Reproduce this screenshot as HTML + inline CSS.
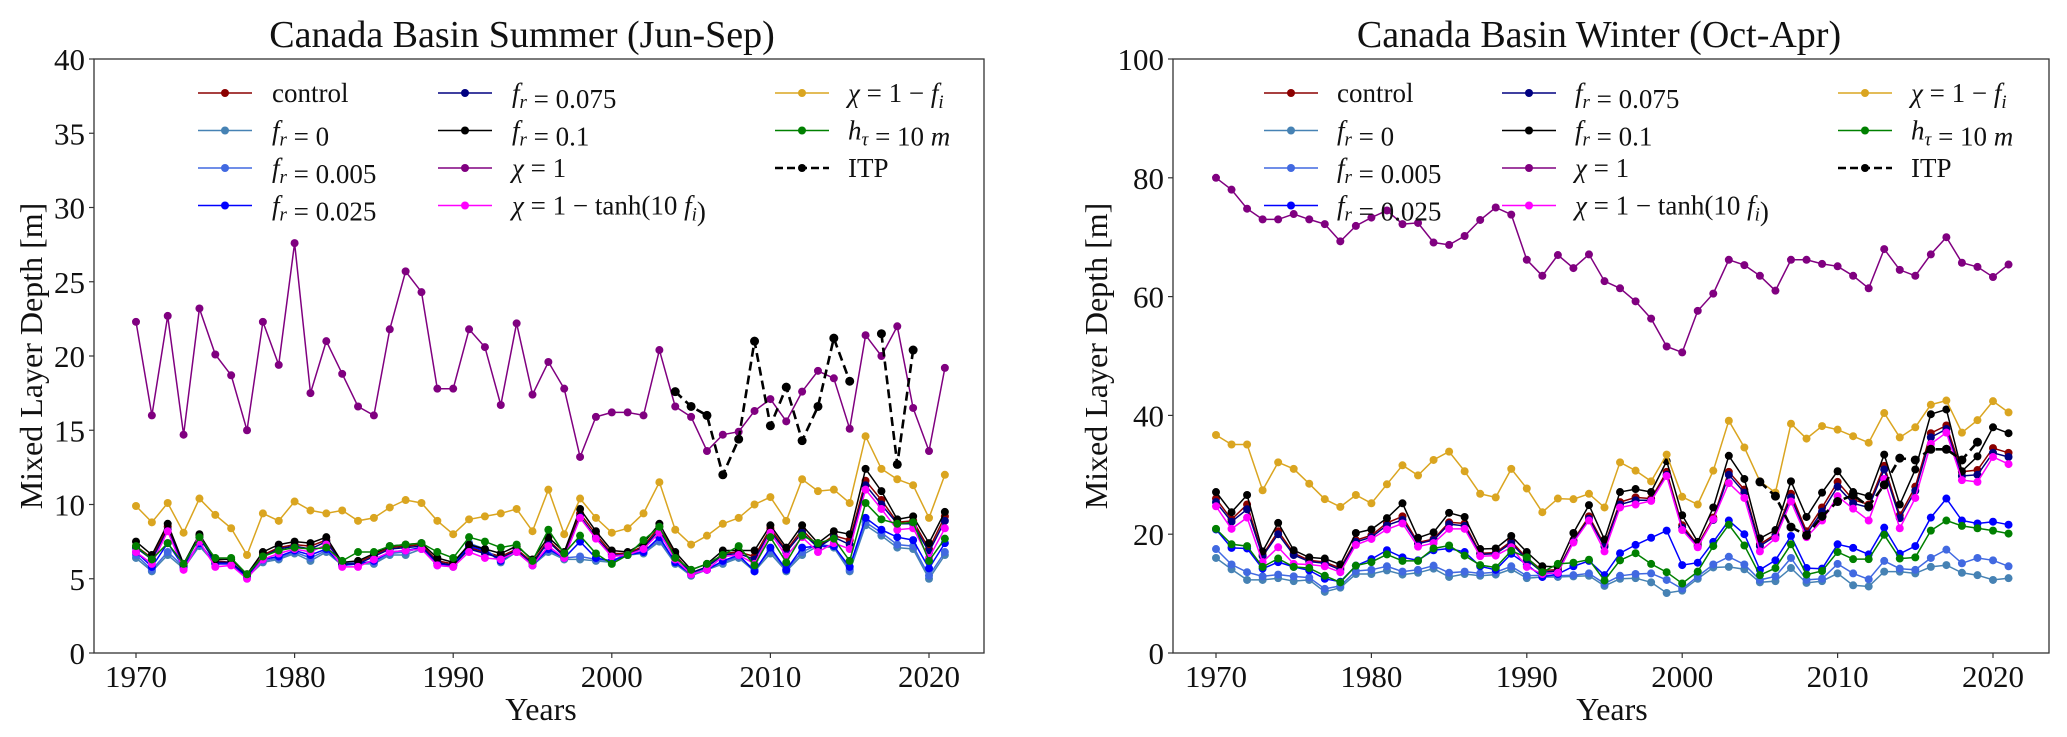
<!DOCTYPE html>
<html><head><meta charset="utf-8"><style>
html,body{margin:0;padding:0;background:#fff;}
svg{display:block;font-family:"Liberation Serif",serif;}
</style></head><body>
<svg id="chart" width="2067" height="737" viewBox="0 0 2067 737" xmlns="http://www.w3.org/2000/svg"></svg>
<script>
const NS="http://www.w3.org/2000/svg";
const years=[];for(let y=1970;y<=2021;y++)years.push(y);
// ---------- Summer (left) data ----------
const sControl=[7.2,6.4,8.5,5.9,7.9,6.2,6.1,5.2,6.6,7.1,7.3,7.2,7.6,6.0,6.1,6.6,7.1,7.2,7.3,6.2,6.0,7.1,6.8,6.5,7.0,6.1,7.6,6.6,9.4,8.0,6.7,6.7,7.2,8.5,6.6,5.4,5.8,6.7,6.8,6.5,8.4,6.9,8.3,7.2,7.9,7.6,11.6,10.3,8.8,8.9,7.0,9.2];
const sFr0=[6.4,5.5,6.6,5.7,7.2,6.0,6.0,5.1,6.1,6.3,6.7,6.2,6.8,5.9,6.0,6.0,6.6,6.6,7.0,5.9,5.8,7.3,7.0,6.1,6.8,5.9,6.8,6.3,6.3,6.2,6.1,6.6,6.7,7.5,6.0,5.2,5.6,6.0,6.4,5.5,6.7,5.5,6.6,7.2,7.1,5.5,8.6,7.9,7.1,7.0,5.0,6.6];
const sFr005=[6.6,5.6,6.8,5.8,7.3,6.1,6.0,5.1,6.2,6.4,6.8,6.4,6.9,6.0,6.1,6.1,6.7,6.8,7.1,6.0,5.9,7.4,7.0,6.2,6.9,6.0,6.9,6.4,6.5,6.3,6.2,6.7,6.8,7.6,6.1,5.3,5.7,6.1,6.5,5.6,6.9,5.6,6.8,7.3,7.2,5.6,8.8,8.1,7.3,7.2,5.2,6.8];
const sFr025=[6.8,5.8,7.4,5.8,7.4,6.0,6.0,5.1,6.3,6.5,6.9,6.6,7.0,5.9,6.0,6.2,6.8,6.9,7.1,6.0,5.9,7.2,6.9,6.2,6.9,5.9,7.0,6.4,7.5,6.4,6.2,6.6,6.8,7.8,6.1,5.3,5.6,6.2,6.6,5.5,7.1,5.6,7.1,7.2,7.2,5.8,9.1,8.3,7.8,7.6,5.7,7.4];
const sFr075=[7.1,6.3,8.3,5.9,7.8,6.1,6.1,5.2,6.5,7.0,7.2,7.0,7.5,6.0,6.0,6.5,7.0,7.1,7.2,6.1,5.9,7.0,6.7,6.4,6.9,6.0,7.5,6.5,9.2,7.8,6.6,6.6,7.1,8.3,6.5,5.4,5.8,6.6,6.7,6.3,8.2,6.8,8.1,7.1,7.8,7.3,11.3,10.0,8.7,8.7,6.8,8.9];
const sFr01=[7.5,6.6,8.7,6.0,8.0,6.3,6.3,5.3,6.8,7.3,7.5,7.4,7.8,6.1,6.2,6.7,7.2,7.3,7.4,6.4,6.1,7.3,7.0,6.7,7.2,6.3,7.8,6.8,9.7,8.2,6.9,6.8,7.4,8.7,6.8,5.6,6.0,6.9,6.9,6.9,8.6,7.1,8.6,7.4,8.2,8.0,12.4,10.9,9.0,9.2,7.4,9.5];
const sChi1=[22.3,16.0,22.7,14.7,23.2,20.1,18.7,15.0,22.3,19.4,27.6,17.5,21.0,18.8,16.6,16.0,21.8,25.7,24.3,17.8,17.8,21.8,20.6,16.7,22.2,17.4,19.6,17.8,13.2,15.9,16.2,16.2,16.0,20.4,16.6,15.9,13.6,14.7,14.9,16.3,17.1,15.6,17.6,19.0,18.5,15.1,21.4,20.0,22.0,16.5,13.6,19.2];
const sTanh=[6.8,6.0,8.2,5.6,7.5,5.8,5.9,5.0,6.3,6.7,7.0,6.8,7.3,5.8,5.8,6.3,6.8,6.9,7.0,5.9,5.8,6.8,6.4,6.3,6.8,5.9,7.2,6.4,9.1,7.7,6.5,6.6,7.0,8.1,6.3,5.3,5.6,6.5,6.6,6.0,8.1,6.5,7.8,6.8,7.4,7.0,11.0,9.7,8.3,8.4,6.4,8.4];
const sChiFi=[9.9,8.8,10.1,8.1,10.4,9.3,8.4,6.6,9.4,8.9,10.2,9.6,9.4,9.6,8.9,9.1,9.8,10.3,10.1,8.9,8.0,9.0,9.2,9.4,9.7,8.2,11.0,8.0,10.4,9.1,8.1,8.4,9.4,11.5,8.3,7.3,7.9,8.7,9.1,10.0,10.5,8.9,11.7,10.9,11.0,10.1,14.6,12.4,11.7,11.3,9.1,12.0];
const sHtau=[7.2,6.3,7.4,6.0,7.8,6.4,6.4,5.3,6.5,6.9,7.1,7.0,7.1,6.2,6.8,6.8,7.2,7.3,7.4,6.8,6.4,7.8,7.5,7.1,7.3,6.2,8.3,6.7,7.9,6.7,6.0,6.6,7.6,8.5,6.4,5.6,6.0,6.6,7.2,5.9,7.8,6.1,7.9,7.4,7.7,6.2,10.1,9.0,8.7,8.8,6.2,7.7];
const sItpYears=[2004,2005,2006,2007,2008,2009,2010,2011,2012,2013,2014,2015,2016,2017,2018,2019];
const sItp=[17.6,16.6,16.0,12.0,14.4,21.0,15.3,17.9,14.3,16.6,21.2,18.3,null,21.5,12.7,20.4];
// ---------- Winter (right) data ----------
const wControl=[26.0,22.5,25.0,16.5,20.5,16.8,15.6,15.3,14.3,19.0,19.8,21.9,23.0,18.6,19.2,22.0,21.8,16.8,16.9,18.8,16.0,13.9,14.0,19.0,23.0,18.2,25.4,26.2,26.0,30.5,21.5,18.2,22.8,30.5,27.5,18.3,20.0,26.8,20.5,24.5,28.8,25.8,25.0,31.5,23.2,28.0,37.0,38.3,30.5,30.8,34.5,33.7];
const wFr0=[16.0,14.1,12.3,12.3,12.6,12.1,12.3,10.3,11.0,13.3,13.3,13.9,13.2,13.5,14.2,12.8,13.3,13.0,13.2,14.1,12.6,12.8,12.8,12.9,13.0,11.3,12.5,12.6,11.9,10.1,10.5,12.5,14.4,14.5,14.1,11.9,12.1,14.3,11.8,12.1,13.4,11.4,11.2,13.7,13.7,13.4,14.5,14.8,13.5,13.1,12.3,12.6];
const wFr005=[17.5,14.9,13.6,12.9,13.2,12.9,12.7,10.8,11.3,13.8,14.0,14.6,13.7,14.0,14.7,13.5,13.7,13.4,13.6,14.6,13.0,13.1,13.0,13.1,13.4,11.7,13.0,13.3,13.4,12.3,10.8,12.9,14.9,16.2,14.9,12.3,12.9,16.0,12.3,12.5,15.0,13.4,12.4,15.5,14.2,14.0,16.0,17.4,15.1,16.0,15.6,14.6];
const wFr025=[20.8,17.7,17.6,14.2,15.3,14.5,13.9,12.5,12.0,14.7,15.8,17.3,16.1,15.6,17.3,17.6,17.0,14.6,14.0,16.7,14.9,12.8,13.3,14.6,15.5,13.1,16.8,18.2,19.4,20.6,14.8,15.2,18.7,22.3,20.0,14.0,15.6,19.7,14.3,14.2,18.3,17.7,16.6,21.1,16.7,18.0,22.8,26.0,22.3,21.8,22.1,21.6];
const wFr075=[25.4,22.1,24.2,16.3,20.0,16.5,15.4,15.1,14.0,18.7,19.5,21.5,22.4,18.4,19.0,21.7,21.4,16.6,16.7,18.5,15.7,13.6,13.8,18.8,22.6,17.9,25.0,25.7,25.7,30.0,21.1,18.0,22.4,30.0,27.0,18.0,19.7,26.2,20.0,23.8,28.0,25.2,24.5,30.9,22.7,27.3,36.3,37.7,29.8,30.0,33.7,33.0];
const wFr01=[27.1,23.7,26.6,17.1,21.9,17.3,16.1,15.9,14.9,20.2,20.8,22.7,25.2,19.4,20.3,23.6,22.9,17.5,17.6,19.7,17.0,14.6,14.5,20.2,24.9,19.1,27.1,27.6,27.1,32.3,23.2,18.7,24.5,33.2,29.3,19.3,20.7,28.9,22.9,27.0,30.6,27.1,26.4,33.4,25.0,30.9,40.2,41.0,30.6,33.1,38.0,37.0];
const wChi1=[80.0,78.0,74.8,73.0,73.0,73.9,73.0,72.2,69.3,71.9,73.3,74.5,72.2,72.4,69.1,68.7,70.2,72.9,75.0,73.8,66.2,63.5,67.0,64.8,67.1,62.6,61.4,59.2,56.3,51.6,50.6,57.6,60.5,66.2,65.3,63.5,61.0,66.2,66.2,65.5,65.1,63.5,61.4,68.0,64.5,63.5,67.1,70.0,65.7,65.0,63.3,65.4];
const wTanh=[24.7,20.9,22.8,15.3,17.8,15.0,14.9,14.6,13.6,18.2,19.2,20.8,21.8,17.9,18.5,20.9,20.9,16.3,16.4,17.8,14.5,13.3,13.5,18.6,22.3,17.1,24.5,25.0,25.6,29.8,20.7,17.8,22.5,28.6,26.1,17.1,19.3,25.5,19.5,22.3,26.4,24.3,22.3,29.3,21.0,26.1,35.2,37.1,29.1,28.8,33.0,31.8];
const wChiFi=[36.7,35.1,35.1,27.4,32.1,31.0,28.5,25.9,24.6,26.6,25.2,28.4,31.6,29.9,32.5,33.9,30.6,26.8,26.2,31.0,27.7,23.7,26.0,25.9,26.8,24.5,32.1,30.7,28.9,33.4,26.3,25.0,30.7,39.1,34.6,28.9,27.0,38.6,36.1,38.2,37.6,36.5,35.4,40.4,36.3,38.0,41.8,42.5,37.1,39.2,42.4,40.5];
const wHtau=[20.9,18.3,18.0,14.5,15.9,14.5,14.3,13.0,11.9,14.7,15.3,16.6,15.5,15.5,17.6,18.1,16.4,14.8,14.4,17.2,16.1,13.6,15.0,15.2,15.7,12.2,15.6,16.8,15.0,13.6,11.7,13.7,18.0,21.6,18.1,13.1,14.3,18.3,13.2,13.8,17.0,15.8,15.8,19.9,15.9,16.1,20.6,22.3,21.4,21.0,20.6,20.1];
const wItpYears=[2005,2006,2007,2008,2009,2010,2011,2012,2013,2014,2015,2016,2017,2018,2019];
const wItp=[28.8,26.4,21.2,19.8,23.0,25.5,26.6,24.7,28.3,32.8,32.5,34.3,34.3,32.5,35.5];
const leftTicks=[0,5,10,15,20,25,30,35,40];
const rightTicks=[0,20,40,60,80,100];
const xTicks=[1970,1980,1990,2000,2010,2020];

const svg=document.getElementById('chart');
function el(tag,attrs,parent){const e=document.createElementNS(NS,tag);for(const k in attrs)e.setAttribute(k,attrs[k]);(parent||svg).appendChild(e);return e;}

const I=s=>'<tspan font-style="italic">'+s+'</tspan>';
const SUB=s=>'<tspan font-style="italic" font-size="19" dy="6">'+s+'</tspan><tspan dy="-6"></tspan>';
const series=[
 {key:'control',color:'#8b0000',label:'control'},
 {key:'fr0',color:'#4682b4',label:I('f')+SUB('r')+' = 0'},
 {key:'fr005',color:'#4169e1',label:I('f')+SUB('r')+' = 0.005'},
 {key:'fr025',color:'#0000ff',label:I('f')+SUB('r')+' = 0.025'},
 {key:'fr075',color:'#000080',label:I('f')+SUB('r')+' = 0.075'},
 {key:'fr01',color:'#000000',label:I('f')+SUB('r')+' = 0.1'},
 {key:'chi1',color:'#800080',label:I('χ')+' = 1'},
 {key:'tanh',color:'#ff00ff',label:I('χ')+' = 1 − tanh(10 '+I('f')+SUB('i')+')'},
 {key:'chifi',color:'#daa520',label:I('χ')+' = 1 − '+I('f')+SUB('i')},
 {key:'htau',color:'#008000',label:I('h')+SUB('τ')+' = 10 '+I('m')},
 {key:'itp',color:'#000000',label:'ITP',dash:true}
];

function drawPanel(p){
  const g=el('g',{});
  
  
  const X=yr=>p.x1970+(yr-1970)*(p.x2020-p.x1970)/50;
  const Y=v=>653-v*594/p.ymax;
  // axes frame
  const fr=el('rect',{x:p.ax0,y:59,width:p.ax1-p.ax0,height:594,fill:'none',stroke:'#333','stroke-width':1.3},g);
  
  
  p.yticks.forEach(t=>{
    el('line',{x1:p.ax0-5,x2:p.ax0,y1:Y(t),y2:Y(t),stroke:'#333','stroke-width':1.2},g);
    const tx=el('text',{x:p.ax0-9,y:Y(t)+11,'text-anchor':'end','font-size':31,fill:'#111'},g);
    tx.textContent=t;
    
    
  });
  xTicks.forEach(t=>{
    el('line',{x1:X(t),x2:X(t),y1:653,y2:658,stroke:'#333','stroke-width':1.2},g);
    const tx=el('text',{x:X(t),y:687,'text-anchor':'middle','font-size':31,fill:'#111'},g);
    tx.textContent=t;
    
    
  });
  const title=el('text',{x:p.titleX,y:47,'text-anchor':'middle','font-size':38,fill:'#111'},g);
  title.textContent=p.title;
  
  
  const xl=el('text',{x:p.xlabX,y:720,'text-anchor':'middle','font-size':32,fill:'#111'},g);
  xl.textContent='Years';
  
  
  const yl=el('text',{x:0,y:0,'text-anchor':'middle','font-size':32,fill:'#111',transform:'translate('+(p.ylabX+11)+',356) rotate(-90)'},g);
  yl.textContent='Mixed Layer Depth [m]';
  
  
  // series
  series.forEach(s=>{
    const xs=s.key==='itp'?p.itpYears:years;
    const vs=p.data[s.key];
    const sg=el('g',{},g);
    
    
    let d='',pen=false;
    vs.forEach((v,i)=>{ if(v===null){pen=false;return;} d+=(pen?'L':'M')+X(xs[i]).toFixed(1)+' '+Y(v).toFixed(1); pen=true;});
    const path=el('path',{d:d,fill:'none',stroke:s.color,'stroke-width':s.dash?2.6:1.5,'stroke-dasharray':s.dash?'9 5':'none'},sg);
    
    
    vs.forEach((v,i)=>{ if(v===null)return;
      const c=el('circle',{cx:X(xs[i]),cy:Y(v),r:s.dash?4.5:4,fill:s.color},sg);
      
      
    });
  });
  // legend
  const lg=el('g',{},g);
  
  
  const cols=[[0,1,2,3],[4,5,6,7],[8,9,10]];
  cols.forEach((col,ci)=>{
    col.forEach((si,ri)=>{
      const s=series[si];
      const ly=93+ri*37.5;
      const lx=p.legX[ci];
      const eg=el('g',{},lg);
      
      
      el('line',{x1:lx,x2:lx+54,y1:ly,y2:ly,stroke:s.color,'stroke-width':s.dash?2.6:1.5,'stroke-dasharray':s.dash?'8 4':'none'},eg);
      el('circle',{cx:lx+27,cy:ly,r:4,fill:s.color},eg);
      const t=el('text',{x:p.legT[ci],y:ly+9,'font-size':27,fill:'#111'},eg);
      t.innerHTML=s.label;
    });
  });
}

drawPanel({name:'summer-panel',ax0:94,ax1:984,x1970:136,x2020:929,ymax:40,yticks:leftTicks,
  title:'Canada Basin Summer (Jun-Sep)',titleX:522,xlabX:541,ylabX:31,
  legX:[198,438,775],legT:[272,512,848],itpYears:sItpYears,
  data:{control:sControl,fr0:sFr0,fr005:sFr005,fr025:sFr025,fr075:sFr075,fr01:sFr01,chi1:sChi1,tanh:sTanh,chifi:sChiFi,htau:sHtau,itp:sItp}});
drawPanel({name:'winter-panel',ax0:1173,ax1:2049,x1970:1216,x2020:1993,ymax:100,yticks:rightTicks,
  title:'Canada Basin Winter (Oct-Apr)',titleX:1599,xlabX:1612,ylabX:1096,
  legX:[1264,1502,1838],legT:[1337,1575,1911],itpYears:wItpYears,
  data:{control:wControl,fr0:wFr0,fr005:wFr005,fr025:wFr025,fr075:wFr075,fr01:wFr01,chi1:wChi1,tanh:wTanh,chifi:wChiFi,htau:wHtau,itp:wItp}});
</script>
</body></html>
